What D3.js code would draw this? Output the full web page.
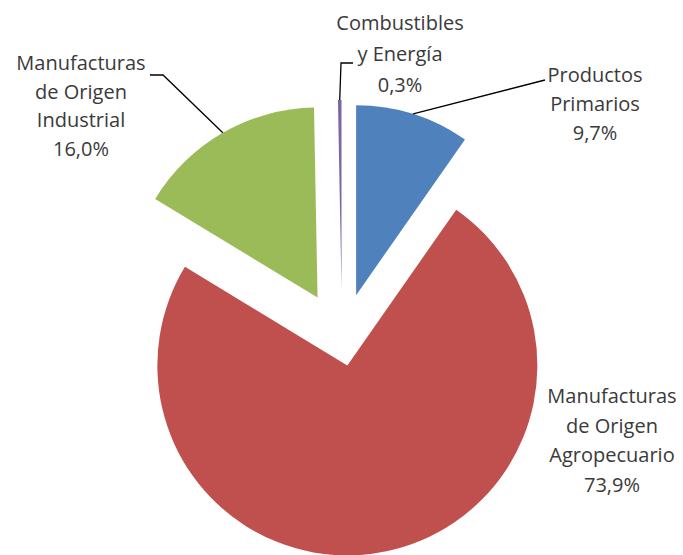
<!DOCTYPE html>
<html>
<head>
<meta charset="utf-8">
<script src="https://cdn.jsdelivr.net/npm/d3@7"></script>
<style>
  html, body { margin: 0; padding: 0; background: #fff; }
  svg text { font-family: "Open Sans", sans-serif; font-size: 20px; fill: #3a3a3a; }
</style>
</head>
<body>
<svg id="chart"></svg>
<script>
// data
const categories = ["Productos Primarios", "Manufacturas de Origen Agropecuario", "Manufacturas de Origen Industrial", "Combustibles y Energía"];
const labelLines = [["Productos", "Primarios"], ["Manufacturas", "de Origen", "Agropecuario"], ["Manufacturas", "de Origen", "Industrial"], ["Combustibles", "y Energía"]];
const shares = [9.7, 73.9, 16.0, 0.3];
const colors = ["#4F81BD", "#C0504D", "#9BBB59", "#8064A2"];

// layout
const width = 683, height = 555;
const cx = 342, cy = 340, radius = 190;
const explode = [47, 26, 49, 50];
// label anchor (center x, first baseline y, line step) and leader polyline end points
const labelPos = [
  { x: 595, y: 82, step: 29, leader: [[545, 80]] },
  { x: 612, y: 403, step: 29.7, leader: null },
  { x: 81, y: 70, step: 28.5, leader: [[163, 75], [150, 75]] },
  { x: 400, y: 30, step: 31, leader: [[341, 63], [353, 63]] }
];

const svg = d3.select("#chart").attr("width", width).attr("height", height);

const pie = d3.pie().sort(null).value(d => d.value);
const arcs = pie(shares.map((v, i) => ({ value: v, i })));
const arc = d3.arc().innerRadius(0).outerRadius(radius);

const g = svg.append("g").attr("transform", `translate(${cx},${cy})`);

function offset(d) {
  const mid = (d.startAngle + d.endAngle) / 2;
  const e = explode[d.data.i];
  return [e * Math.sin(mid), -e * Math.cos(mid)];
}

g.selectAll("path.slice")
  .data(arcs)
  .join("path")
  .attr("class", "slice")
  .attr("d", arc)
  .attr("fill", d => colors[d.data.i])
  .attr("transform", d => `translate(${offset(d)})`);

const fmt = v => d3.format(".1f")(v).replace(".", ",") + "%";

// leader lines from slice edge
arcs.forEach(d => {
  const lp = labelPos[d.data.i];
  if (!lp.leader) return;
  const mid = (d.startAngle + d.endAngle) / 2;
  const [ox, oy] = offset(d);
  const start = [cx + ox + radius * Math.sin(mid), cy + oy - radius * Math.cos(mid)];
  svg.append("polyline")
    .attr("points", [start, ...lp.leader].map(p => p.join(",")).join(" "))
    .attr("fill", "none")
    .attr("stroke", "#000")
    .attr("stroke-width", 1.3);
});

// labels
arcs.forEach(d => {
  const i = d.data.i;
  const lp = labelPos[i];
  const t = svg.append("text")
    .attr("text-anchor", "middle")
    .attr("x", lp.x)
    .attr("y", lp.y);
  labelLines[i].concat([fmt(shares[i])]).forEach((s, k) => {
    t.append("tspan").attr("x", lp.x).attr("dy", k === 0 ? 0 : lp.step).text(s);
  });
});
</script>
</body>
</html>
